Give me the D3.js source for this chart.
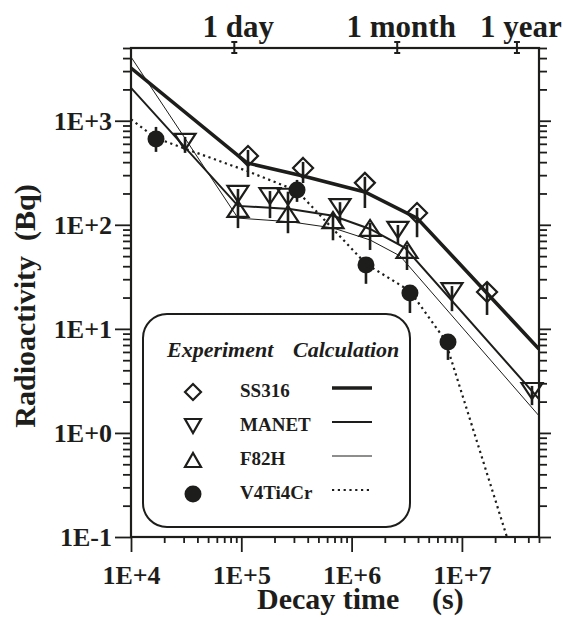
<!DOCTYPE html>
<html>
<head>
<meta charset="utf-8">
<script src="https://cdn.jsdelivr.net/npm/d3@7"></script>
<style>
  body { margin: 0; background: #fff; }
  text { font-family: "Liberation Serif", "Times New Roman", serif; font-weight: bold; fill: #1d1d1b; }
</style>
</head>
<body>
<svg id="chart" width="564" height="617"></svg>
<script>
// experiment: decay time (s), activity (Bq), error bar ends
const ss316T  = [1.15e5, 3.63e5, 1.32e6, 3.92e6, 1.69e7];
const ss316A  = [459, 352, 253, 130, 22.6];
const ss316Lo = [288, 252, 145, 76, 13.6];
const ss316Hi = [524, 402, 289, 145, 27.6];

const manetT  = [3.09e4, 9.33e4, 1.82e5, 2.65e5, 7.85e5, 2.63e6, 8.13e6, 4.32e7];
const manetA  = [626, 198, 189, 186, 148, 89.2, 23.1, 2.53];
const manetLo = [491, 152, 116, 143, 104, 65.4, 14.8, 1.85];
const manetHi = [699, 221, 211, 208, 165, 99.6, 25.8, 2.83];

const f82hT  = [9.33e4, 2.65e5, 6.78e5, 1.47e6, 3.18e6];
const f82hA  = [142, 127, 111, 93.3, 57.3];
const f82hLo = [93, 83, 71, 57.3, 36.8];
const f82hHi = [177, 152, 127, 104, 64];

const v4T  = [1.685e4, 3.2e5, 1.35e6, 3.38e6, 7.48e6];
const v4A  = [669, 216, 41.2, 22.1, 7.49];
const v4Lo = [502, 166, 27.1, 14.2, 5.03];
const v4Hi = [872, 270, 46, 24.7, 8.4];

// calculation curves
const ss316CalcT = [1e4, 1.127e5, 3.63e5, 1.32e6, 3.92e6, 5e7];
const ss316CalcA = [3210, 393, 295, 207, 116, 6.4];
const manetCalcT = [1e4, 9.33e4, 2.76e5, 6.78e5, 1.47e6, 3.05e6, 5e7];
const manetCalcA = [2070, 152, 142, 122, 91.2, 60, 2.12];
const f82hCalcT  = [1e4, 9.33e4, 2.76e5, 6.78e5, 1.47e6, 2.75e6, 5e7];
const f82hCalcA  = [4100, 116, 107, 93.3, 71.5, 50.2, 1.46];
const v4CalcT    = [1e4, 1.685e4, 1.127e5, 3.2e5, 1.35e6, 3.38e6, 7.03e6, 2.56e7];
const v4CalcA    = [1030, 680, 329, 212, 42.1, 23.1, 7.83, 0.1];

const seriesNames = ['SS316', 'MANET', 'F82H', 'V4Ti4Cr'];
const xMajor = [1e4, 1e5, 1e6, 1e7];
const yMajor = [0.1, 1, 10, 100, 1000];
const timeLabels = ['1 day', '1 month', '1 year'];
const timeSec = [86400, 2592000, 31536000];

const ink = '#1d1d1b';
const plotL = 131, plotR = 539, plotT = 48, plotB = 537;

const svg = d3.select('#chart');

const x = d3.scaleLog().domain([1e4, 5e7]).range([plotL, plotR]);
const y = d3.scaleLog().domain([0.1, 5000]).range([plotB, plotT]);

const isPow = v => Math.abs(Math.log10(v) - Math.round(Math.log10(v))) < 1e-6;
const fmt = v => {
  const e = Math.round(Math.log10(v));
  return '1E' + (e < 0 ? '-' : '+') + Math.abs(e);
};
const xMinor = x.ticks().filter(v => !isPow(v));
const yMinor = y.ticks().filter(v => !isPow(v));

function styleAxis(g) {
  g.select('.domain').remove();
  g.selectAll('line').attr('stroke', ink).attr('stroke-width', 1.8);
  g.selectAll('text').style('font-size', '26px');
}

// bottom
svg.append('g').attr('transform', `translate(0,${plotB})`)
  .call(d3.axisBottom(x).tickValues(xMinor).tickSize(6).tickFormat(''))
  .call(styleAxis);
svg.append('g').attr('transform', `translate(0,${plotB})`)
  .call(d3.axisBottom(x).tickValues(xMajor).tickSize(15).tickPadding(14).tickFormat(fmt))
  .call(styleAxis);
// left
svg.append('g').attr('transform', `translate(${plotL},0)`)
  .call(d3.axisLeft(y).tickValues(yMinor).tickSize(8).tickFormat(''))
  .call(styleAxis);
svg.append('g').attr('transform', `translate(${plotL},0)`)
  .call(d3.axisLeft(y).tickValues(yMajor).tickSize(16).tickPadding(3).tickFormat(fmt))
  .call(styleAxis);
// right
svg.append('g').attr('transform', `translate(${plotR},0)`)
  .call(d3.axisRight(y).tickValues(yMinor).tickSize(8).tickFormat(''))
  .call(styleAxis);
svg.append('g').attr('transform', `translate(${plotR},0)`)
  .call(d3.axisRight(y).tickValues(yMajor).tickSize(12).tickFormat(''))
  .call(styleAxis);

// frame
svg.append('rect')
  .attr('x', plotL).attr('y', plotT)
  .attr('width', plotR - plotL).attr('height', plotB - plotT)
  .attr('fill', 'none').attr('stroke', ink).attr('stroke-width', 2.2);

// top time markers
const tm = svg.append('g').attr('stroke', ink).attr('stroke-width', 2);
timeSec.forEach((s, i) => {
  const px = x(s);
  tm.append('line').attr('x1', px).attr('x2', px).attr('y1', plotT - 6).attr('y2', plotT + 5);
  tm.append('line').attr('x1', px - 3).attr('x2', px + 3).attr('y1', plotT - 6).attr('y2', plotT - 6);
  tm.append('line').attr('x1', px - 3).attr('x2', px + 3).attr('y1', plotT + 5).attr('y2', plotT + 5);
  svg.append('text')
    .attr('x', px + 4).attr('y', 37)
    .attr('text-anchor', 'middle')
    .style('font-size', '31px')
    .text(timeLabels[i]);
});

// axis titles
svg.append('text')
  .attr('transform', 'translate(35,306) rotate(-90)')
  .attr('text-anchor', 'middle')
  .style('font-size', '30px')
  .text('Radioactivity\u00a0 (Bq)');
svg.append('text').attr('x', 257).attr('y', 609).style('font-size', '30px').text('Decay time');
svg.append('text').attr('x', 432).attr('y', 609).style('font-size', '30px').text('(s)');

// clip for curves
svg.append('clipPath').attr('id', 'plot')
  .append('rect').attr('x', plotL).attr('y', plotT)
  .attr('width', plotR - plotL).attr('height', plotB - plotT);

const line = d3.line().x(d => x(d[0])).y(d => y(d[1]));
const calc = [
  [ss316CalcT, ss316CalcA],
  [manetCalcT, manetCalcA],
  [f82hCalcT, f82hCalcA],
  [v4CalcT, v4CalcA]
];
const lineStyle = [
  { w: 3.6, dash: null },
  { w: 2.0, dash: null },
  { w: 1.0, dash: null },
  { w: 2.2, dash: '2.2,3.6' }
];

const curves = svg.append('g').attr('clip-path', 'url(#plot)');
calc.forEach(([t, a], i) => {
  curves.append('path')
    .attr('d', line(d3.zip(t, a)))
    .attr('fill', 'none')
    .attr('stroke', ink)
    .attr('stroke-width', lineStyle[i].w)
    .attr('stroke-dasharray', lineStyle[i].dash);
});

// markers
function markerPath(type, w, h) {
  if (type === 'diamond') return `M0,${-h}L${w},0L0,${h}L${-w},0Z`;
  if (type === 'down') return `M${-w},${-h}L${w},${-h}L0,${h}Z`;
  if (type === 'up') return `M${-w},${h}L${w},${h}L0,${-h}Z`;
  return null;
}
function drawMarker(g, type, cx, cy, big) {
  if (type === 'circle') {
    g.append('circle').attr('cx', cx).attr('cy', cy).attr('r', 8.5).attr('fill', ink);
    return;
  }
  const w = type === 'diamond' ? (big ? 10 : 8) : (big ? 10.5 : 8);
  const h = type === 'diamond' ? (big ? 10 : 8) : (big ? 8 : 7);
  g.append('path')
    .attr('d', markerPath(type, w, h))
    .attr('transform', `translate(${cx},${cy})`)
    .attr('fill', 'none')
    .attr('stroke', ink)
    .attr('stroke-width', 2.2)
    .attr('stroke-linejoin', 'miter');
}

const expts = [
  { type: 'diamond', t: ss316T, a: ss316A, lo: ss316Lo, hi: ss316Hi },
  { type: 'down', t: manetT, a: manetA, lo: manetLo, hi: manetHi },
  { type: 'up', t: f82hT, a: f82hA, lo: f82hLo, hi: f82hHi },
  { type: 'circle', t: v4T, a: v4A, lo: v4Lo, hi: v4Hi }
];

const errG = svg.append('g').attr('stroke', ink).attr('stroke-width', 2.6);
const markG = svg.append('g');
expts.forEach(s => {
  s.t.forEach((t, i) => {
    errG.append('line')
      .attr('x1', x(t)).attr('x2', x(t))
      .attr('y1', y(s.hi[i])).attr('y2', y(s.lo[i]));
    drawMarker(markG, s.type, x(t), y(s.a[i]), true);
  });
});

// legend
const lg = svg.append('g');
lg.append('rect')
  .attr('x', 143).attr('y', 314).attr('width', 267).attr('height', 213)
  .attr('rx', 24).attr('ry', 24)
  .attr('fill', '#fff').attr('stroke', ink).attr('stroke-width', 2);
lg.append('text').attr('x', 167).attr('y', 357)
  .style('font-size', '22px').style('font-style', 'italic').text('Experiment');
lg.append('text').attr('x', 293).attr('y', 357)
  .style('font-size', '22px').style('font-style', 'italic').text('Calculation');

seriesNames.forEach((name, i) => {
  const base = 397 + i * 34;
  drawMarker(lg, expts[i].type, 193, base - 5, false);
  lg.append('text').attr('x', 240).attr('y', base).style('font-size', '19px').text(name);
  lg.append('line')
    .attr('x1', 332).attr('x2', 372)
    .attr('y1', base - 9).attr('y2', base - 9)
    .attr('stroke', ink)
    .attr('stroke-width', lineStyle[i].w)
    .attr('stroke-dasharray', lineStyle[i].dash);
});
</script>
</body>
</html>
